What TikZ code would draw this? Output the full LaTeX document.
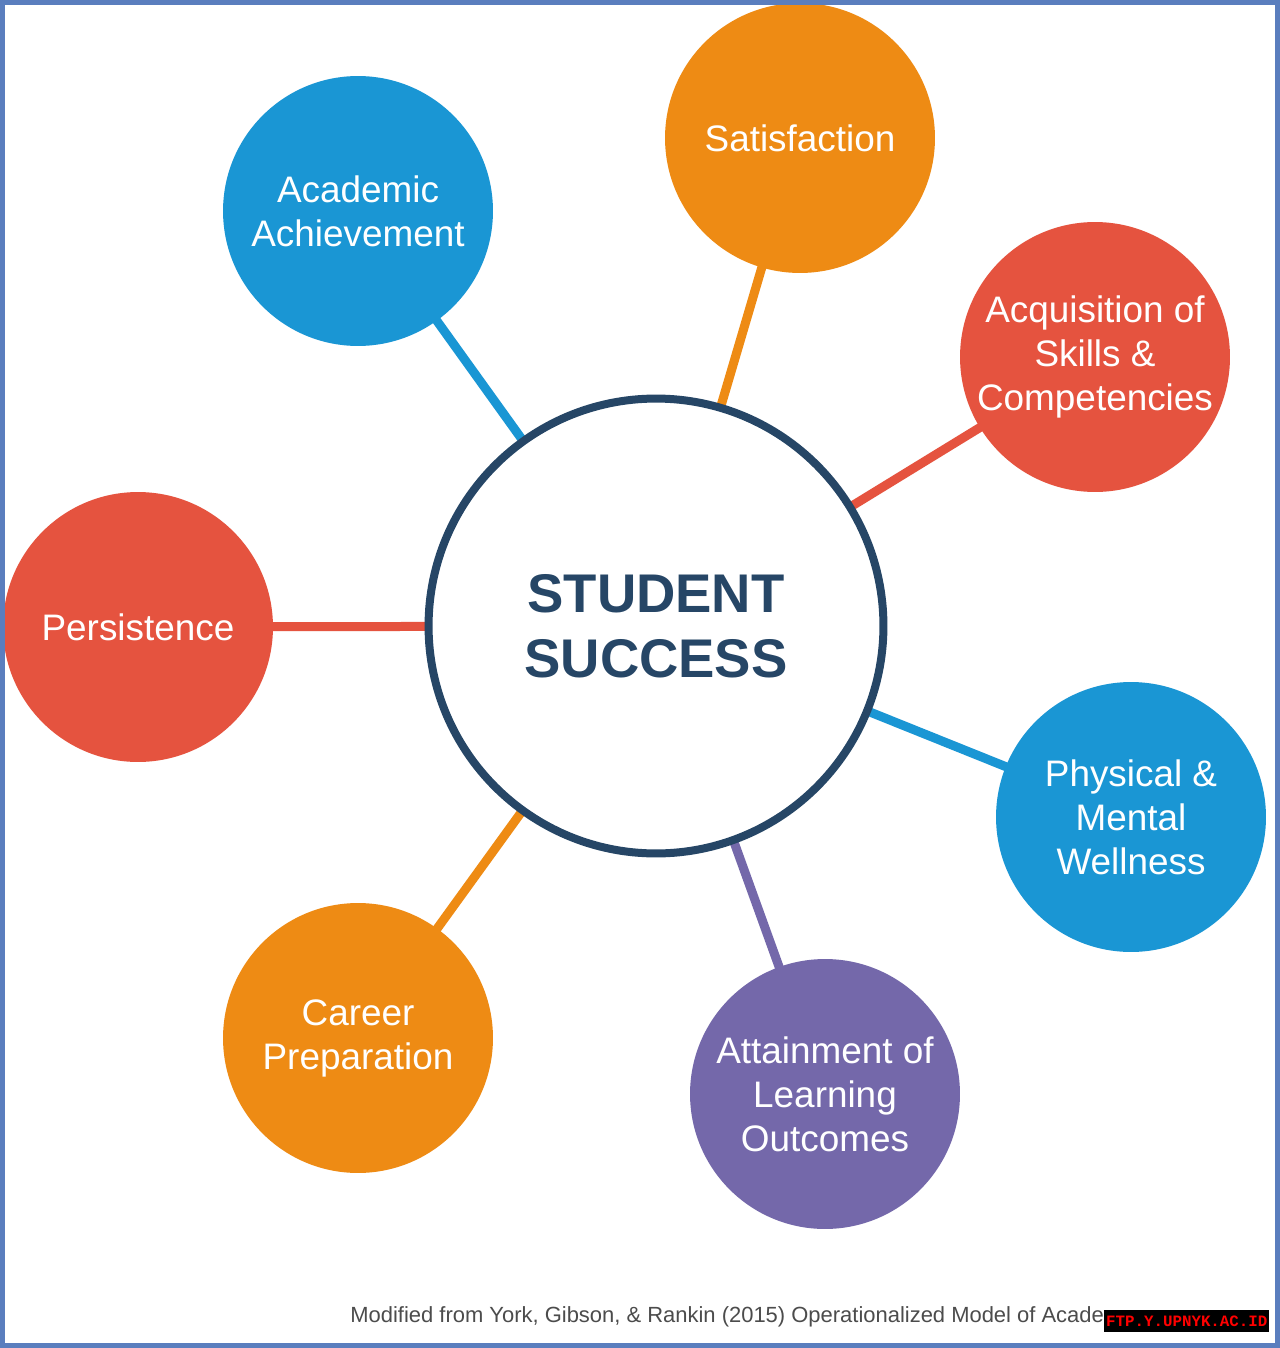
\documentclass[tikz,border=0pt]{standalone}
\usepackage{fontspec}
\setmainfont{Liberation Sans}
\newfontfamily\wmfont{Liberation Mono}
\usetikzlibrary{backgrounds}

\definecolor{ssnavy}{HTML}{264666}
\definecolor{ssblue}{HTML}{1A96D4}
\definecolor{ssorange}{HTML}{EE8B14}
\definecolor{ssred}{HTML}{E5533F}
\definecolor{sspurple}{HTML}{7468AA}
\definecolor{ssframe}{HTML}{5A7EBE}

\tikzset{
  hub/.style={circle, draw=ssnavy, line width=0.16cm, fill=white, minimum size=9.1cm,
    inner sep=0pt, text=ssnavy, align=center, font=\fontsize{31}{37}\selectfont\bfseries},
  facet/.style={circle, fill=#1, minimum size=5.4cm, inner sep=0pt, text=white,
    align=center, font=\fontsize{21}{25}\selectfont},
  spoke/.style={line width=0.18cm, draw=#1},
}

\begin{document}
\begin{tikzpicture}[x=0.02cm, y=-0.02cm]
\useasboundingbox (0,0) rectangle (1280,1348);

% centre
\node[hub] (success) at (656,626) {STUDENT\\SUCCESS};

% outcomes
\node[facet=ssblue] (academic) at (358,211) {Academic\\Achievement};
\node[facet=ssorange] (satisf) at (800,138) {Satisfaction};
\node[facet=ssred] (skills) at (1095,357) {Acquisition of\\Skills \&\\Competencies};
\node[facet=ssred] (persist) at (138,627) {Persistence};
\node[facet=ssblue] (wellness) at (1131,817) {Physical \&\\Mental\\Wellness};
\node[facet=sspurple] (learning) at (825,1094) {Attainment of\\Learning\\Outcomes};
\node[facet=ssorange] (career) at (358,1038) {Career\\Preparation};

\begin{scope}[on background layer]
\fill[white] (0,0) rectangle (1280,1348);
\draw[spoke=ssblue] (success.center) -- (academic.center);
\draw[spoke=ssorange] (success.center) -- (satisf.center);
\draw[spoke=ssred] (success.center) -- (skills.center);
\draw[spoke=ssred] (success.center) -- (persist.center);
\draw[spoke=ssblue] (success.center) -- (wellness.center);
\draw[spoke=sspurple] (success.center) -- (learning.center);
\draw[spoke=ssorange] (success.center) -- (career.center);
\end{scope}

\draw[ssframe, line width=0.1cm] (2.5,2.5) rectangle (1277.5,1345.5);

% source line
\node[anchor=base west, text=black!70, font=\fontsize{12.5}{14}\selectfont, inner sep=0pt]
  (source) at (350,1322) {Modified from York, Gibson, \& Rankin (2015) Operationalized Model of Acade};
\node[anchor=west, fill=black, text=red, font=\fontsize{9}{10}\selectfont\wmfont\bfseries,
  minimum height=0.44cm, inner xsep=1pt] (stamp) at (1104,1321) {FTP.Y.UPNYK.AC.ID};
\end{tikzpicture}
\end{document}
